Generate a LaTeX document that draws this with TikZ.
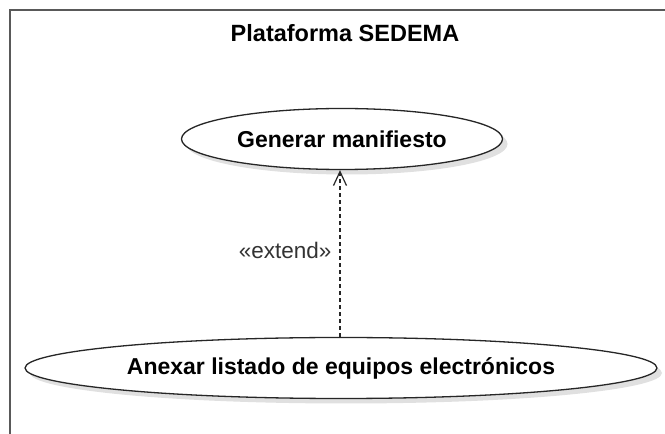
\documentclass[tikz,border=0pt]{standalone}
\usepackage{fontspec}
\setmainfont{Liberation Sans}
\usetikzlibrary{arrows.meta,shapes.geometric}
\begin{document}
\begin{tikzpicture}[x=1pt,y=1pt,
  usecase/.style={ellipse,draw=black!85,line width=1.3pt,fill=white,inner sep=0pt,
    font=\bfseries\fontsize{23}{27}\selectfont},
  ucshadow/.style={ellipse,fill=black!12,draw=none,inner sep=0pt},
  frameline/.style={draw=black!65,line width=1.6pt},
  extendarrow/.style={draw=black!85,line width=1.3pt,dash pattern=on 4pt off 3pt,
    -{Straight Barb[length=14pt,width=13pt,line width=1.2pt]}},
  lbl/.style={font=\fontsize{22.5}{26}\selectfont,text=black!80}]
\useasboundingbox (0,0) rectangle (665,434);
\fill[white] (0,0) rectangle (665,434);
% frame
\coordinate (fbl) at (10,-2);
\coordinate (ftl) at (10,424);
\coordinate (ftr) at (667,424);
\draw[frameline] (fbl) -- (ftl) -- (ftr);
\node[font=\bfseries\fontsize{23.5}{27}\selectfont] (title) at (345,401) {Plataforma SEDEMA};
% shadows
\node[ucshadow,minimum width=321pt,minimum height=61pt] (s1) at (347,290) {};
\node[ucshadow,minimum width=632pt,minimum height=61pt] (s2) at (346,61) {};
% use cases
\node[usecase,minimum width=321pt,minimum height=61pt] (e1) at (342,295) {Generar manifiesto};
\node[usecase,minimum width=632pt,minimum height=61pt] (e2) at (341,66) {Anexar listado de equipos electrónicos};
% extend
\coordinate (ax) at (340,0);
\draw[extendarrow] (ax |- e2.north) -- (ax |- e1.south);
\node[lbl,anchor=east] (ext) at (335,184) {«extend»};
\end{tikzpicture}
\end{document}
